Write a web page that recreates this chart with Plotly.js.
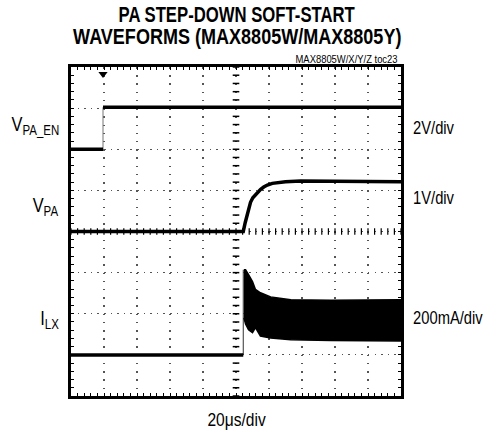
<!DOCTYPE html>
<html>
<head>
<meta charset="utf-8">
<script src="https://cdn.plot.ly/plotly-3.0.1.min.js"></script>
<style>html,body{margin:0;padding:0;background:#fff;}#chart{width:484px;height:433px;}</style>
</head>
<body>
<div id="chart"></div>
<script>
// ---- data (time in divisions of 20us, level in screen divisions) ----
const enTime   = [0, 0.97, 0.97, 10];
const enLevel  = [6.0, 6.0, 7.02, 7.02];

const vpaTime  = [0, 5.22, 5.28, 5.34, 5.39, 5.44, 5.51, 5.59, 5.66, 5.74, 5.84, 5.95, 6.10, 6.25, 6.50, 6.96, 8.0, 10];
const vpaLevel = [4.0, 4.0, 4.22, 4.41, 4.57, 4.71, 4.82, 4.90, 4.97, 5.02, 5.08, 5.13, 5.17, 5.19, 5.21, 5.23, 5.23, 5.21];

const ilxTime  = [0, 5.22, 5.22];
const ilxLevel = [1.0, 1.0, 3.07];
const bandTime  = [5.24, 5.29, 5.38, 5.50, 5.59, 5.74, 6.05, 6.66, 7.87, 10];
const bandUpper = [3.07, 3.07, 2.95, 2.78, 2.59, 2.51, 2.41, 2.34, 2.33, 2.34];
const bandLower = [1.90, 1.75, 1.61, 1.54, 1.66, 1.46, 1.41, 1.37, 1.35, 1.34];

const triggerTime = enTime[1];

const leftLabels  = ['V<sub>PA_EN</sub>', 'V<sub>PA</sub>', 'I<sub>LX</sub>'];
const rightLabels = ['2V/div', '1V/div', '200mA/div'];
const timeLabel   = '20μs/div';
const titleLines  = ['PA STEP-DOWN SOFT-START', 'WAVEFORMS (MAX8805W/MAX8805Y)'];
const tocLabel    = 'MAX8805W/X/Y/Z toc23';

// ---- build ----
const FONT = '"Liberation Sans", Arial, sans-serif';
const NARROW = 0.82;
const black = '#000';

function splitEdges(xs, ys) {
  const ox = [], oy = [];
  for (let i = 0; i < xs.length; i++) {
    if (i > 0 && xs[i] === xs[i - 1]) { ox.push(null); oy.push(null); }
    ox.push(xs[i]); oy.push(ys[i]);
  }
  return [ox, oy];
}
const [enX, enY] = splitEdges(enTime, enLevel);
const [ilX, ilY] = splitEdges(ilxTime, ilxLevel);

const traces = [
  {x: enTime, y: enLevel, mode: 'lines', line: {color: '#777', width: 1}, hoverinfo: 'skip'},
  {x: enX, y: enY, mode: 'lines', line: {color: black, width: 3.5}, connectgaps: false, hoverinfo: 'skip'},
  {x: vpaTime, y: vpaLevel, mode: 'lines', line: {color: black, width: 3.5}, hoverinfo: 'skip'},
  {x: ilxTime, y: ilxLevel, mode: 'lines', line: {color: '#333', width: 1}, hoverinfo: 'skip'},
  {x: ilX, y: ilY, mode: 'lines', line: {color: black, width: 3.5}, connectgaps: false, hoverinfo: 'skip'},
  {x: bandTime, y: bandLower, mode: 'lines', line: {color: black, width: 1.5}, hoverinfo: 'skip'},
  {x: bandTime, y: bandUpper, mode: 'lines', fill: 'tonexty', fillcolor: black, line: {color: black, width: 1.5}, hoverinfo: 'skip'},
  {x: [triggerTime], y: [7.83], mode: 'markers', marker: {symbol: 'triangle-down', size: 8, color: black}, hoverinfo: 'skip'}
];

const shapes = [];
for (let k = 0; k <= 40; k++) {
  const y = k * 0.2;
  shapes.push({type: 'line', xref: 'x', yref: 'y', x0: 4.9, x1: 5.1, y0: y, y1: y, line: {color: black, width: 1.5}});
}
for (let k = 0; k <= 50; k++) {
  const x = k * 0.2;
  shapes.push({type: 'line', xref: 'x', yref: 'y', x0: x, x1: x, y0: 3.92, y1: 4.08, line: {color: black, width: 1.2}});
}

const L = 71, R = 401, T = 67, B = 396, W = R - L, H = B - T;
const px = v => (v - L) / W;
const py = v => (B - v) / H;

const annotations = [];
const narrowBy = [];
const leftY = [125, 207, 319];
leftLabels.forEach((t, i) => { annotations.push({
  text: t, xref: 'paper', yref: 'paper', x: px(61), y: py(leftY[i]),
  xanchor: 'right', yanchor: 'middle', showarrow: false, font: {family: FONT, size: 20, color: black}
}); narrowBy.push(NARROW); });
const rightY = [128, 198, 318];
rightLabels.forEach((t, i) => { annotations.push({
  text: t, xref: 'paper', yref: 'paper', x: px(411), y: py(rightY[i]),
  xanchor: 'left', yanchor: 'middle', showarrow: false, font: {family: FONT, size: 18, color: black}
}); narrowBy.push(NARROW); });
annotations.push({text: timeLabel, xref: 'paper', yref: 'paper', x: px(237), y: py(419),
  xanchor: 'center', yanchor: 'middle', showarrow: false, font: {family: FONT, size: 19, color: black}});
narrowBy.push(NARROW);
const titleY = [14, 36];
const titleNarrow = [0.76, 0.82];
titleLines.forEach((t, i) => { annotations.push({
  text: '<b>' + t + '</b>', xref: 'paper', yref: 'paper', x: px(237), y: py(titleY[i]),
  xanchor: 'center', yanchor: 'middle', showarrow: false, font: {family: FONT, size: 22, color: black}
}); narrowBy.push(titleNarrow[i]); });
annotations.push({text: tocLabel, xref: 'paper', yref: 'paper', x: px(400), y: py(59),
  xanchor: 'right', yanchor: 'middle', showarrow: false, font: {family: FONT, size: 11.5, color: black}});
narrowBy.push(NARROW);

const axisCommon = {
  showline: true, mirror: 'allticks', linecolor: black, linewidth: 3,
  ticks: 'inside', ticklen: 3, tickcolor: black, showticklabels: false,
  zeroline: false, showgrid: true, gridcolor: '#555', gridwidth: 1.2, fixedrange: true,
  minor: {ticks: 'inside', ticklen: 3, tickcolor: black, showgrid: false}
};

const layout = {
  width: 484, height: 433,
  margin: {l: L, r: 484 - R, t: T, b: 433 - B, pad: 0},
  paper_bgcolor: '#fff', plot_bgcolor: '#fff',
  showlegend: false,
  xaxis: Object.assign({}, axisCommon, {range: [0, 10], dtick: 1, tick0: 0, griddash: '1.5px,6.72px',
    minor: Object.assign({}, axisCommon.minor, {dtick: 0.2})}),
  yaxis: Object.assign({}, axisCommon, {range: [0, 8], dtick: 1, tick0: 0, griddash: '1.5px,5.1px',
    minor: Object.assign({}, axisCommon.minor, {dtick: 0.2})}),
  shapes: shapes,
  annotations: annotations
};

Plotly.newPlot('chart', traces, layout, {staticPlot: true, displayModeBar: false}).then(gd => {
  // condense annotation text horizontally (narrow typeface look), keeping the anchor edge fixed
  const anns = gd.layout.annotations;
  gd.querySelectorAll('g.annotation').forEach(g => {
    const idx = +g.getAttribute('data-index');
    const a = anns[idx];
    const txt = g.querySelector('text.annotation-text');
    if (!txt || !a) return;
    const s = narrowBy[idx] || NARROW;
    const bb = txt.getBBox();
    let pivot = bb.x + bb.width / 2;
    if (a.xanchor === 'right') pivot = bb.x + bb.width;
    if (a.xanchor === 'left') pivot = bb.x;
    txt.setAttribute('transform', `translate(${pivot},0) scale(${s},1) translate(${-pivot},0)`);
  });
});
</script>
</body>
</html>
